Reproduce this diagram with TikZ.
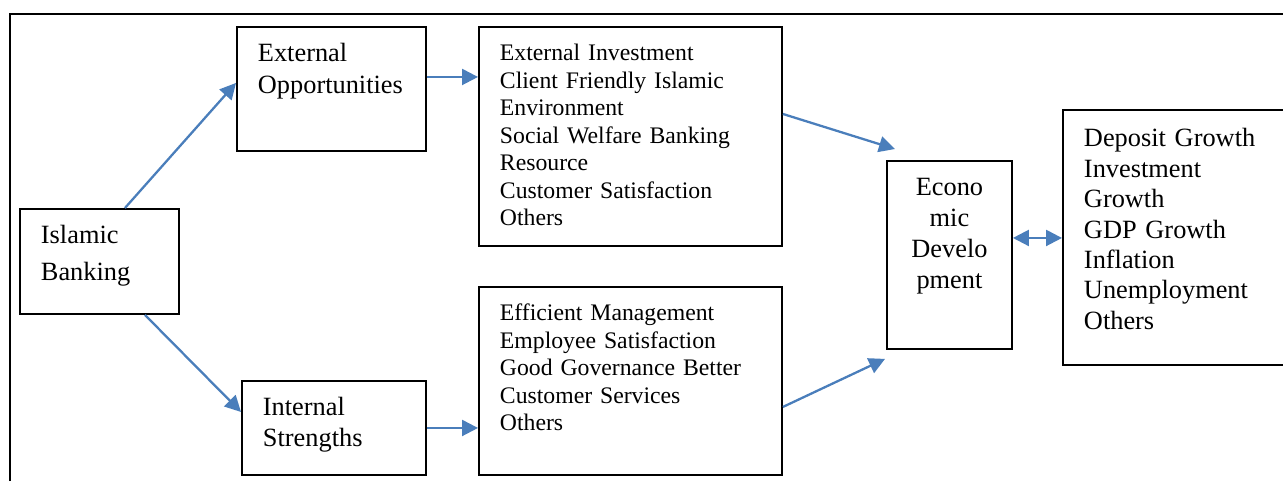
\documentclass[tikz,border=0pt]{standalone}
\usepackage{fontspec}
\setmainfont{Liberation Serif}
\usetikzlibrary{positioning,arrows.meta,calc}
\definecolor{linkblue}{RGB}{74,126,187}

\begin{document}
\begin{tikzpicture}[
    x=0.02cm, y=-0.02cm,
    box/.style={rectangle, draw, line width=1.1pt, anchor=north west, inner xsep=0.42cm, inner ysep=0.34cm, text height=0.36cm, align=left, font=\fontsize{15}{18.1}\selectfont},
    list/.style={box, text height=0.33cm, font=\fontsize{13.5}{15.7}\selectfont},
    arrow/.style={-{Triangle[length=0.32cm, width=0.32cm]}, line width=1.3pt, draw=linkblue},
    dblarrow/.style={arrow, {Triangle[length=0.32cm, width=0.32cm]}-{Triangle[length=0.32cm, width=0.32cm]}}
]
\clip (0,0) rectangle (1283,481);
\draw[line width=1.2pt] (10,481) -- (10,14) -- (1283,14);

\node[box, text width=2.34cm, text depth=1.06cm, font=\fontsize{15}{21}\selectfont] (bank) at (19,208) {Islamic\\Banking};
\node[box, text width=2.94cm, text depth=1.44cm] (extopp) at (236,26) {External\\Opportunities};
\node[box, text width=2.84cm, text depth=0.84cm, font=\fontsize{15}{17.6}\selectfont] (intstr) at (241,380) {Internal\\Strengths};
\node[list, text width=5.22cm, text depth=3.37cm] (extlist) at (478,26) {External Investment\\Client Friendly Islamic\\Environment\\Social Welfare Banking\\Resource\\Customer Satisfaction\\Others};
\node[list, text width=5.22cm, text depth=2.75cm] (intlist) at (478,286) {Efficient Management\\Employee Satisfaction\\Good Governance Better\\Customer Services\\Others};
\node[box, align=center, text width=1.66cm, text depth=2.72cm, font=\fontsize{15}{17.6}\selectfont] (econ) at (886,160) {Econo\\mic\\Develo\\pment};
\node[box, text width=3.96cm, text height=0.40cm, text depth=4.02cm, font=\fontsize{15}{17.3}\selectfont] (macro) at (1062,109) {Deposit Growth\\Investment\\Growth\\GDP Growth\\Inflation\\Unemployment\\Others};

\coordinate (eo) at ([yshift=0.24cm]extopp.east);
\coordinate (em) at ([yshift=0.34cm]econ.east);

\draw[arrow] ([xshift=0.51cm]bank.north) -- ([yshift=0.12cm]extopp.west);
\draw[arrow] ([xshift=0.91cm]bank.south) -- ([yshift=0.32cm]intstr.west);
\draw[arrow] (eo) -- (eo -| extlist.west);
\draw[arrow] (intstr.east) -- (intstr.east -| intlist.west);
\draw[arrow] ([yshift=0.45cm]extlist.east) -- ([shift={(0.18cm,0.22cm)}]econ.north west);
\draw[arrow] ([yshift=-0.52cm]intlist.east) -- ([shift={(-0.02cm,-0.18cm)}]econ.south west);
\draw[dblarrow] (em) -- (em -| macro.west);
\end{tikzpicture}
\end{document}
